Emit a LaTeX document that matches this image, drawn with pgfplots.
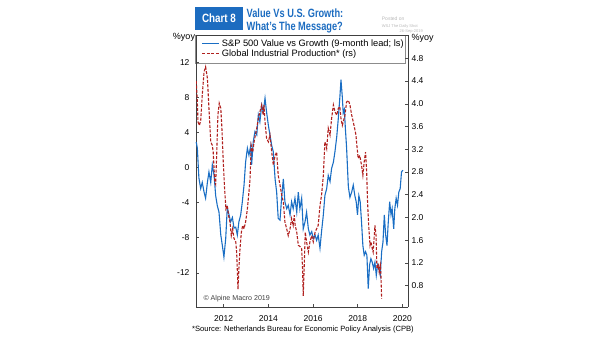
\documentclass[border=0pt]{standalone}
\usepackage{pgfplots}
\pgfplotsset{compat=1.18}
\usepackage{fontspec}
\setmainfont{Liberation Sans}
\definecolor{cblue}{HTML}{1A6EC4}
\definecolor{cred}{HTML}{B0201E}
\definecolor{tblue}{HTML}{1C6CC0}
\pgfplotstableread{
x y
2010.77 2.9
2010.82 2.2
2010.89 -1.2
2010.97 -2.4
2011.04 -1.7
2011.12 -2.8
2011.19 -3.5
2011.27 -1.7
2011.34 -0.5
2011.42 -1.7
2011.49 0.3
2011.57 -0.9
2011.64 -3.2
2011.71 -4.3
2011.79 -5.1
2011.87 -7.7
2011.94 -8.9
2012.01 -10.2
2012.09 -8.1
2012.16 -4.6
2012.24 -5.4
2012.31 -6.2
2012.39 -5.7
2012.46 -6.9
2012.54 -6.8
2012.61 -7.7
2012.68 -6.2
2012.76 -5.4
2012.83 -4.0
2012.91 -2.0
2012.98 0.6
2013.06 2.2
2013.13 1.4
2013.21 2.5
2013.25 0.3
2013.32 2.9
2013.40 4.1
2013.48 3.7
2013.55 6.0
2013.62 5.2
2013.70 7.1
2013.77 6.3
2013.85 7.9
2013.92 6.3
2014.00 4.8
2014.07 3.7
2014.15 2.5
2014.22 1.8
2014.30 -1.3
2014.37 -2.8
2014.44 -5.8
2014.52 -6.0
2014.60 -3.2
2014.67 -1.3
2014.74 -3.9
2014.82 -4.7
2014.89 -4.3
2014.97 -5.4
2015.04 -3.9
2015.11 -4.7
2015.19 -3.5
2015.27 -5.1
2015.34 -2.8
2015.41 -4.7
2015.49 -3.5
2015.56 -7.0
2015.64 -6.2
2015.71 -5.1
2015.79 -7.0
2015.86 -7.7
2015.94 -7.3
2016.01 -8.1
2016.09 -7.7
2016.16 -8.3
2016.23 -7.7
2016.31 -9.2
2016.38 -7.3
2016.46 -5.4
2016.53 -3.2
2016.61 -2.4
2016.68 -0.9
2016.76 -1.6
2016.83 -0.1
2016.91 0.6
2016.98 1.8
2017.06 3.5
2017.13 5.6
2017.20 8.0
2017.25 10.0
2017.31 8.0
2017.35 6.2
2017.40 6.6
2017.45 4.3
2017.50 2.3
2017.58 -2.2
2017.65 -3.4
2017.73 -2.8
2017.80 -2.0
2017.87 -3.2
2017.93 -3.9
2017.99 -5.4
2018.05 -3.2
2018.11 -3.9
2018.17 -6.2
2018.23 -8.9
2018.29 -10.0
2018.35 -9.6
2018.41 -10.0
2018.47 -13.8
2018.53 -11.1
2018.59 -10.4
2018.65 -10.8
2018.71 -11.5
2018.77 -10.8
2018.83 -12.3
2018.89 -11.1
2018.95 -11.5
2019.01 -12.3
2019.07 -9.6
2019.13 -8.5
2019.19 -5.4
2019.25 -7.7
2019.31 -8.9
2019.36 -6.5
2019.43 -3.9
2019.49 -5.4
2019.54 -4.7
2019.61 -7.0
2019.66 -4.7
2019.72 -3.5
2019.78 -4.3
2019.84 -2.8
2019.90 -2.4
2019.96 -0.5
2020.02 -0.3
}\bluedata
\pgfplotstableread{
x y
2010.77 4.40
2010.82 4.03
2010.85 3.68
2010.91 3.62
2010.97 3.70
2011.04 4.15
2011.12 4.56
2011.19 4.65
2011.27 4.45
2011.34 3.92
2011.42 3.33
2011.49 3.27
2011.53 3.15
2011.60 2.62
2011.64 2.58
2011.69 3.15
2011.74 3.80
2011.80 4.01
2011.87 3.92
2011.92 3.57
2011.98 2.98
2012.04 2.51
2012.10 2.15
2012.16 2.21
2012.22 2.03
2012.28 1.92
2012.34 1.68
2012.40 1.80
2012.46 1.63
2012.54 1.57
2012.58 1.39
2012.64 0.74
2012.68 1.10
2012.73 1.45
2012.79 1.74
2012.85 1.86
2012.91 1.80
2012.98 1.92
2013.06 2.15
2013.13 2.45
2013.18 2.68
2013.23 3.27
2013.30 3.15
2013.36 3.33
2013.42 3.45
2013.48 3.57
2013.55 3.74
2013.62 3.86
2013.70 3.98
2013.77 3.80
2013.80 3.98
2013.85 3.68
2013.92 3.39
2014.00 3.33
2014.07 3.45
2014.15 3.15
2014.22 2.92
2014.30 3.09
2014.37 3.15
2014.44 2.74
2014.52 2.57
2014.60 2.39
2014.67 2.27
2014.74 1.92
2014.82 1.80
2014.89 1.68
2014.97 1.80
2015.04 1.98
2015.11 1.86
2015.16 2.04
2015.20 1.86
2015.27 1.74
2015.34 1.51
2015.41 1.49
2015.49 1.45
2015.53 1.10
2015.56 0.62
2015.61 1.20
2015.65 1.74
2015.71 1.57
2015.79 1.39
2015.86 1.57
2015.94 1.68
2016.01 1.57
2016.09 1.74
2016.16 1.80
2016.23 1.86
2016.31 2.21
2016.38 2.39
2016.46 2.74
2016.53 3.33
2016.61 3.21
2016.68 3.57
2016.76 3.45
2016.83 3.74
2016.91 3.98
2016.98 3.86
2017.06 3.80
2017.13 3.92
2017.20 3.95
2017.25 3.74
2017.31 3.62
2017.43 3.80
2017.50 4.03
2017.58 4.06
2017.65 3.98
2017.73 3.80
2017.80 3.68
2017.87 3.55
2017.92 3.45
2017.96 3.27
2018.02 3.04
2018.09 3.09
2018.14 2.98
2018.17 2.92
2018.23 2.74
2018.29 2.98
2018.35 3.15
2018.40 2.80
2018.44 2.27
2018.49 1.86
2018.55 1.51
2018.59 1.57
2018.65 1.45
2018.69 1.39
2018.74 1.68
2018.77 1.86
2018.82 1.68
2018.86 1.10
2018.92 1.16
2018.96 1.04
2019.01 1.16
2019.04 0.98
2019.07 0.57
}\reddata
\begin{document}
\begin{tikzpicture}[x=1pt,y=1pt]
\path[use as bounding box] (0,0) rectangle (605,341);
% watermark
\node[anchor=west, text=black!28, font=\fontsize{5}{6}\selectfont, inner sep=0pt] at (381.7,322.5) {Posted on};
\node[anchor=west, text=black!28, font=\fontsize{4}{5}\selectfont, inner sep=0pt] at (381.7,314.2) {WSJ The Daily Shot};
\node[anchor=west, text=black!28, font=\fontsize{4}{5}\selectfont, inner sep=0pt] at (399.5,309.6) {26-Sep-2019};
% legend box
\draw[black!45, line width=0.5pt, fill=white] (195,277.7) rectangle (405.7,305.3);
% left axis
\begin{axis}[
  at={(196pt,34pt)}, anchor=south west,
  width=212pt, height=272pt, scale only axis,
  xmin=2010.76, xmax=2020.25,
  ymin=-15.9, ymax=15.1,
  axis y line*=left, axis x line*=bottom,
  axis line style={draw=black!75, line width=0.6pt},
  xtick={2012,2014,2016,2018,2020},
  ytick={-12,-8,-4,0,4,8,12},
  tick align=inside, major tick length=3pt,
  tick style={black!70, line width=0.5pt},
  /pgf/number format/assume math mode=true,
  xticklabel style={font=\fontsize{8.5}{10}\selectfont, yshift=-5pt},
  yticklabel style={font=\fontsize{8.5}{10}\selectfont, xshift=-3pt},
  x tick label style={/pgf/number format/1000 sep={}},
  clip=false,
  legend style={at={(rel axis cs:0,1)}, anchor=north west, draw=none, fill=none,
     xshift=3.5pt, yshift=-1pt,
     font=\fontsize{9.3}{10.5}\selectfont, inner xsep=2pt, inner ysep=1.5pt,
     row sep=-2.5pt, cells={anchor=west}},
  legend cell align=left,
]
\addplot[cblue, line width=1.1pt] table[x=x,y=y] {\bluedata};
\addlegendentry{S\&P 500 Value vs Growth (9-month lead; ls)}
\addlegendimage{cred, line width=1.1pt, dash pattern=on 3pt off 1.5pt}
\addlegendentry{Global Industrial Production* (rs)}
\end{axis}
% right axis
\begin{axis}[
  at={(196pt,34pt)}, anchor=south west,
  width=212pt, height=272pt, scale only axis,
  xmin=2010.76, xmax=2020.25,
  ymin=0.424, ymax=5.21,
  axis y line*=right, axis x line=none,
  axis line style={draw=black!75, line width=0.6pt},
  ytick={0.8,1.2,1.6,2.0,2.4,2.8,3.2,3.6,4.0,4.4,4.8},
  yticklabel style={font=\fontsize{8.5}{10}\selectfont, /pgf/number format/.cd, fixed, fixed zerofill, precision=1},
  /pgf/number format/assume math mode=true,
  tick align=inside, major tick length=3pt,
  tick style={black!70, line width=0.5pt},
]
\addplot[cred, line width=1.1pt, dash pattern=on 3pt off 1.5pt] table[x=x,y=y] {\reddata};
\end{axis}
% top frame line
\draw[black!75, line width=0.6pt] (196,306) -- (408,306);
% headers
\node[font=\fontsize{9}{10}\selectfont] at (184,303.3) {\%yoy};
\node[font=\fontsize{9}{10}\selectfont, inner sep=0pt] at (422.5,302.4) {\%yoy};
\fill[tblue] (195,311) rectangle (243,333.7);
\node[text=white, font=\fontsize{12}{12}\selectfont\bfseries] at (219,322.3) {\scalebox{0.82}[1]{Chart 8}};
\node[anchor=west, text=tblue, font=\fontsize{12}{12}\selectfont\bfseries, inner sep=0pt] at (246.5,327.3) {\scalebox{0.77}[1]{Value Vs U.S. Growth:}};
\node[anchor=west, text=tblue, font=\fontsize{12}{12}\selectfont\bfseries, inner sep=0pt] at (246.5,313.3) {\scalebox{0.77}[1]{What's The Message?}};
\node[anchor=west, text=black!75, font=\fontsize{7.1}{8}\selectfont, inner sep=0pt] at (203.3,42) {© Alpine Macro 2019};
\node[font=\fontsize{7.6}{9}\selectfont, inner sep=0pt] at (303,11.7) {*Source: Netherlands Bureau for Economic Policy Analysis (CPB)};
\end{tikzpicture}
\end{document}
